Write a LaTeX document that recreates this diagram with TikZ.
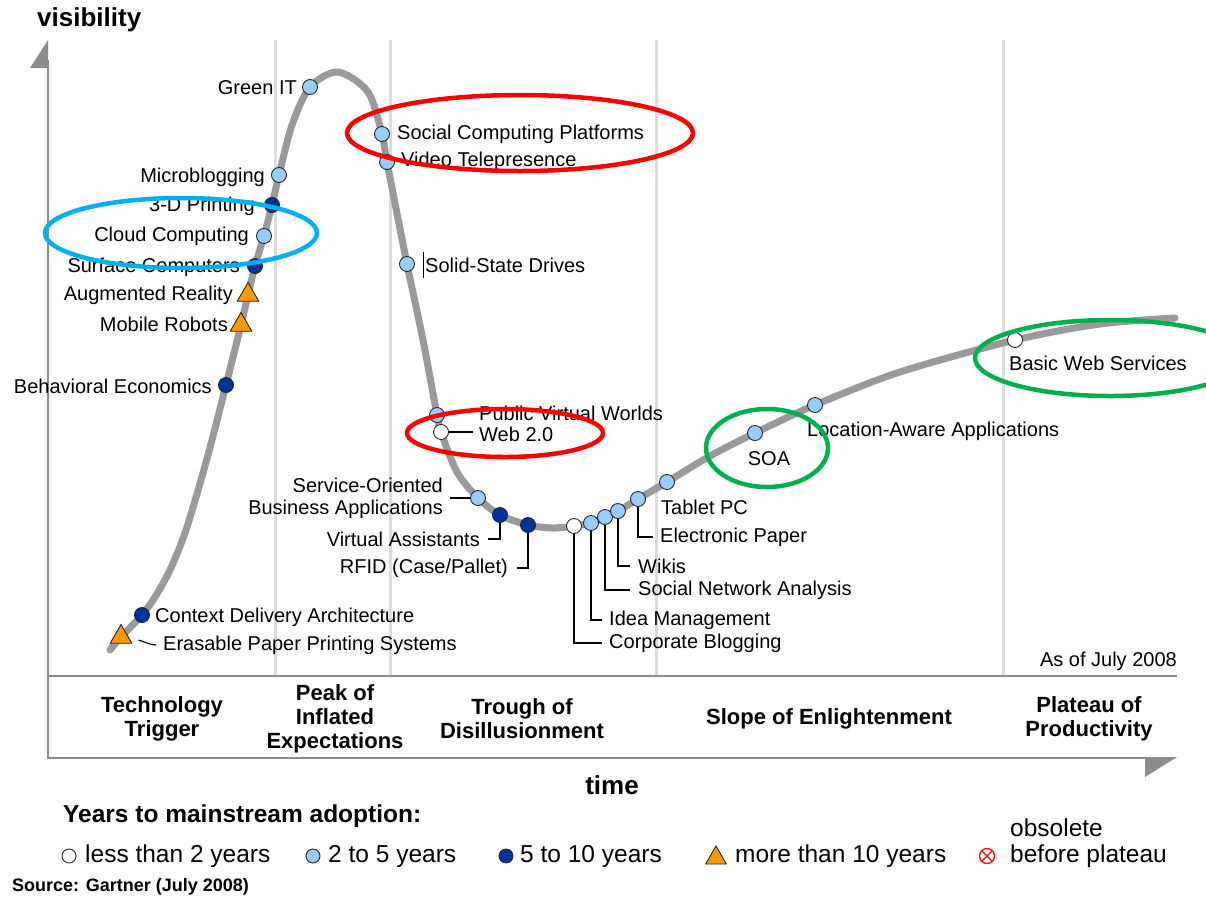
\documentclass[tikz,border=0pt]{standalone}
\usepackage{fontspec}
\setmainfont{Liberation Sans}
\usetikzlibrary{shapes.geometric}

\definecolor{curvegray}{HTML}{9A9A9A}
\definecolor{axisgray}{HTML}{8C8C8C}
\definecolor{gridgray}{HTML}{DCDCDC}
\definecolor{lightblue}{HTML}{99CCFF}
\definecolor{darkblue}{HTML}{003399}
\definecolor{hypeorange}{HTML}{FF9900}
\definecolor{ringred}{HTML}{FF0000}
\definecolor{ringcyan}{HTML}{00B0F0}
\definecolor{ringgreen}{HTML}{00B050}

\begin{document}
\begin{tikzpicture}[x=1pt, y=-1pt,
    mk/.style={circle, draw=black!85, line width=0.9pt, minimum size=15pt, inner sep=0pt},
    lessTwo/.style={mk, fill=white},
    twoFive/.style={mk, fill=lightblue},
    fiveTen/.style={mk, fill=darkblue},
    overTen/.style={regular polygon, regular polygon sides=3, draw=black!85, line width=0.9pt, fill=hypeorange, minimum size=25pt, inner sep=0pt},
    obs/.style={circle, draw=ringred, line width=1.3pt, minimum size=15pt, inner sep=0pt,
        path picture={\draw[ringred, line width=1.3pt] (path picture bounding box.south west) -- (path picture bounding box.north east)
            (path picture bounding box.north west) -- (path picture bounding box.south east);}},
    lbl/.style={font=\fontsize{20}{22}\selectfont, inner sep=0pt},
    leg/.style={font=\fontsize{24.5}{26}\selectfont, inner sep=0pt, anchor=west},
    phase/.style={font=\bfseries\fontsize{22}{24}\selectfont, align=center, inner sep=0pt},
    lead/.style={draw=black, line width=1.2pt},
    ring/.style={line width=4.5pt},
]
    \useasboundingbox (0,0) rectangle (1206,898);

    % grid and axes
    \draw[gridgray, line width=3pt] (275,40) -- (275,676) (390,40) -- (390,676) (656,40) -- (656,676) (1003,40) -- (1003,676);
    \draw[axisgray, line width=2.5pt] (48,60) -- (48,758) -- (1150,758);
    \draw[axisgray, line width=2pt] (48,676) -- (1177,676);
    \fill[axisgray] (48,40) -- (48,68) -- (30,68) -- cycle;
    \fill[axisgray] (1145,757) -- (1177,757) -- (1145,777) -- cycle;
    \node[font=\bfseries\fontsize{26}{28}\selectfont, anchor=west, inner sep=0pt] (vis) at (37,20) {visibility};
    \node[font=\bfseries\fontsize{26}{28}\selectfont, inner sep=0pt] (time) at (612,785) {time};

    % the hype curve
    \draw[curvegray, line width=7pt, line cap=round] plot[smooth, tension=0.5] coordinates {(110,650) (121,637) (142,615) (155,597) (170,570) (185,533) (199,487) (212,440) (226,385) (241,325) (248,295) (255,266) (264,236) (272,205) (279,175) (292,125) (310,87) (338,72) (368,92) (382,134) (387,162) (407,264) (423,340) (437,415) (441,432) (457,472) (478,498) (500,515) (528,525) (553,528) (574,526) (591,523) (605,517) (618,511) (638,499) (667,482) (710,456) (755,433) (815,405) (900,372) (1015,340) (1100,324) (1175,318)};

    \node[overTen] (eps) at (121,637) {};
    \node[fiveTen] (cda) at (142,615) {};
    \node[fiveTen] (beh) at (226,385) {};
    \node[overTen] (mob) at (241,325) {};
    \node[overTen] (aug) at (248,295) {};
    \node[fiveTen] (sfc) at (255,266) {};
    \node[twoFive] (cloud) at (264,236) {};
    \node[fiveTen] (print) at (272,205) {};
    \node[twoFive] (micro) at (279,175) {};
    \node[twoFive] (green) at (310,87) {};
    \node[twoFive] (social) at (382,134) {};
    \node[twoFive] (video) at (387,162) {};
    \node[twoFive] (ssd) at (407,264) {};
    \node[twoFive] (pvw) at (437,415) {};
    \node[lessTwo] (web) at (441,432) {};
    \node[twoFive] (soba) at (478,498) {};
    \node[fiveTen] (va) at (500,515) {};
    \node[fiveTen] (rfid) at (528,525) {};
    \node[lessTwo] (cb) at (574,526) {};
    \node[twoFive] (idea) at (591,523) {};
    \node[twoFive] (sna) at (605,517) {};
    \node[twoFive] (wiki) at (618,511) {};
    \node[twoFive] (epaper) at (638,499) {};
    \node[twoFive] (tablet) at (667,482) {};
    \node[twoFive] (soa) at (755,433) {};
    \node[twoFive] (loc) at (815,405) {};
    \node[lessTwo] (bws) at (1015,340) {};

    % labels
    \node[lbl, anchor=east] (greenL) at (297,88) {Green IT};
    \node[lbl, anchor=east] (microL) at (265,177) {Microblogging};
    \node[lbl, anchor=east] (printL) at (255,206) {3-D Printing};
    \node[lbl, anchor=east] (cloudL) at (249,236) {Cloud Computing};
    \node[lbl, anchor=east] (sfcL) at (240,267) {Surface Computers};
    \node[lbl, anchor=east] (augL) at (233,295) {Augmented Reality};
    \node[lbl, anchor=east] (mobL) at (228,324) {Mobile Robots};
    \node[lbl, anchor=east] (behL) at (212,386) {Behavioral Economics};
    \node[lbl, anchor=west] (cdaL) at (155,617) {Context Delivery Architecture};
    \node[lbl, anchor=west] (epsL) at (163,645) {Erasable Paper Printing Systems};
    \node[lbl, anchor=west] (socialL) at (397,134) {Social Computing Platforms};
    \node[lbl, anchor=west] (videoL) at (401,161) {Video Telepresence};
    \node[lbl, anchor=west] (ssdL) at (425,265) {Solid-State Drives};
    \node[lbl, anchor=west] (pvwL) at (479,413) {Public Virtual Worlds};
    \node[lbl, anchor=west] (webL) at (479,434) {Web 2.0};
    \node[lbl, anchor=east, align=right] (sobaL) at (443,498) {Service-Oriented\\Business Applications};
    \node[lbl, anchor=east] (vaL) at (480,539) {Virtual Assistants};
    \node[lbl, anchor=east] (rfidL) at (508,568) {RFID (Case/Pallet)};
    \node[lbl, anchor=west] (cbL) at (609,643) {Corporate Blogging};
    \node[lbl, anchor=west] (ideaL) at (609,620) {Idea Management};
    \node[lbl, anchor=west] (snaL) at (638,590) {Social Network Analysis};
    \node[lbl, anchor=west] (wikiL) at (638,566) {Wikis};
    \node[lbl, anchor=west] (epaperL) at (660,537) {Electronic Paper};
    \node[lbl, anchor=west] (tabletL) at (661,507) {Tablet PC};
    \node[lbl] (soaL) at (769,459) {SOA};
    \node[lbl, anchor=west] (locL) at (807,431) {Location-Aware Applications};
    \node[lbl, anchor=west] (bwsL) at (1009,363) {Basic Web Services};
    \node[lbl, anchor=east] (asof) at (1177,661) {As of July 2008};

    % leader lines
    \draw[lead, shorten <=9pt, shorten >=7pt] (eps) to[out=-10, in=180] (epsL.west);
    \draw[lead, line width=1pt] ([xshift=-2pt, yshift=5pt]ssdL.north west) -- ([xshift=-2pt, yshift=-5pt]ssdL.south west);
    \draw[lead, shorten >=6pt] (web.east) -- (web.east -| webL.west);
    \draw[lead, shorten >=7pt] (soba.west) -- (soba.west -| sobaL.east);
    \draw[lead, shorten >=8pt] (va.south) |- (vaL.east);
    \draw[lead, shorten >=9pt] (rfid.south) |- (rfidL.east);
    \draw[lead, shorten >=7pt] (cb.south) |- (cbL.west);
    \draw[lead, shorten >=7pt] (idea.south) |- (ideaL.west);
    \draw[lead, shorten >=8pt] (sna.south) |- (snaL.west);
    \draw[lead, shorten >=8pt] (wiki.south) |- (wikiL.west);
    \draw[lead, shorten >=7pt] (epaper.south) |- (epaperL.west);

    % phases
    \node[phase] (trigger) at (162,719) {Technology\\Trigger};
    \node[phase] (peak) at (335,719) {Peak of\\Inflated\\Expectations};
    \node[phase] (trough) at (522,719) {Trough of\\Disillusionment};
    \node[phase] (slope) at (829,719) {Slope of Enlightenment};
    \node[phase] (plateau) at (1089,719) {Plateau of\\Productivity};

    % legend
    \node[font=\bfseries\fontsize{24.5}{26}\selectfont, anchor=west, inner sep=0pt] (legendT) at (63,816) {Years to mainstream adoption:};
    \node[lessTwo, minimum size=14pt] (kLess) at (69,856) {};
    \node[leg] (kLessL) at (85,856) {less than 2 years};
    \node[twoFive, minimum size=14pt] (kTwo) at (313,856) {};
    \node[leg] (kTwoL) at (328,856) {2 to 5 years};
    \node[fiveTen, minimum size=14pt] (kFive) at (506,856) {};
    \node[leg] (kFiveL) at (520,856) {5 to 10 years};
    \node[overTen, minimum size=24pt] (kTen) at (716,858) {};
    \node[leg] (kTenL) at (735,856) {more than 10 years};
    \node[obs] (kObs) at (987,856) {};
    \node[leg, align=left] (kObsL) at (1010,843) {obsolete\\before plateau};
    \node[font=\bfseries\fontsize{18}{20}\selectfont, anchor=west, inner sep=0pt] (src) at (12,887) {Source: Gartner (July 2008)};

    % highlight rings
    \draw[ringred, ring] (520,133) ellipse [x radius=173pt, y radius=38pt];
    \draw[ringcyan, ring] (181,233) ellipse [x radius=136pt, y radius=35pt];
    \draw[ringred, ring] (505,433) ellipse [x radius=98pt, y radius=24pt];
    \draw[ringgreen, ring] (767,448) ellipse [x radius=61pt, y radius=39pt];
    \draw[ringgreen, ring] (1110,358) ellipse [x radius=135pt, y radius=38pt];
\end{tikzpicture}
\end{document}
